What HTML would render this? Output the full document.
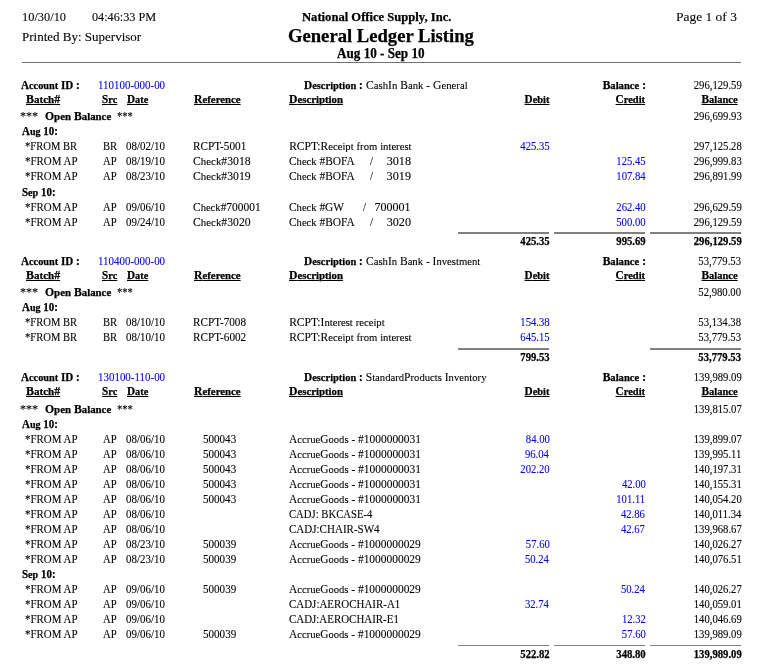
<!DOCTYPE html>
<html><head><meta charset="utf-8"><title>General Ledger Listing</title>
<style>
html,body{margin:0;padding:0;background:#fff;}
body{width:758px;height:665px;position:relative;overflow:hidden;font-family:"Liberation Serif","Times New Roman",serif;color:#000;}
.t{position:absolute;white-space:pre;line-height:20px;font-size:11.5px;-webkit-text-stroke:0.1px currentColor;}
.b{font-weight:bold;-webkit-text-stroke-width:0.25px;}
.u{text-decoration:underline;}
.c{color:#0000ff;}
.ln{position:absolute;}
.l{font-size:10.667px;}
</style></head><body>

<div class="t" style="top:7.11px;font-size:13px;left:21.51px;transform:scale(0.9531,1.0000);transform-origin:0 14.39px;">10/30/10</div>
<div class="t" style="top:7.11px;font-size:13px;left:92.14px;transform:scale(0.9393,1.0000);transform-origin:0 14.39px;">04:46:33 PM</div>
<div class="t b" style="top:7.28px;font-size:12.5px;left:302.16px;transform:scale(1.0075,1.0000);transform-origin:0 14.22px;">National Office Supply, Inc.</div>
<div class="t" style="top:7.11px;font-size:13px;left:675.62px;transform:scale(1.0350,1.0000);transform-origin:0 14.39px;">Page 1 of 3</div>
<div class="t" style="top:27.11px;font-size:13px;left:22.03px;">Printed By: Supervisor</div>
<div class="t b" style="top:26.43px;font-size:18px;left:288.29px;transform:scale(1.0347,1.0000);transform-origin:0 16.08px;">General Ledger Listing</div>
<div class="t b" style="top:43.84px;font-size:13.8px;left:336.58px;transform:scale(0.9523,1.0000);transform-origin:0 14.66px;">Aug 10 - Sep 10</div>
<div class="t b" style="top:74.62px;left:21.19px;transform:scale(0.9640,1.0000);transform-origin:0 13.88px;">A<span class="l">ccount</span> ID :</div>
<div class="t c" style="top:74.62px;left:97.54px;transform:scale(0.9518,1.0000);transform-origin:0 13.88px;">110100-000-00</div>
<div class="t b" style="top:74.62px;left:303.60px;transform:scale(0.9808,1.0000);transform-origin:0 13.88px;">D<span class="l">escription</span> :</div>
<div class="t" style="top:74.62px;left:366.03px;transform:scale(1.0073,1.0000);transform-origin:0 13.88px;">C<span class="l">ash</span>I<span class="l">n</span> B<span class="l">ank</span> - G<span class="l">eneral</span></div>
<div class="t b" style="top:74.62px;right:111.98px;">B<span class="l">alance</span> :</div>
<div class="t" style="top:74.62px;right:16.56px;transform:scale(0.9274,1.0000);transform-origin:100% 13.88px;">296,129.59</div>
<div class="t b u" style="top:88.62px;left:26.10px;transform:scale(1.0355,1.0000);transform-origin:0 13.88px;">B<span class="l">atch</span>#</div>
<div class="t b u" style="top:88.62px;left:102.31px;transform:scale(0.9716,1.0000);transform-origin:0 13.88px;">S<span class="l">rc</span></div>
<div class="t b u" style="top:88.62px;left:126.51px;transform:scale(0.9727,1.0000);transform-origin:0 13.88px;">D<span class="l">ate</span></div>
<div class="t b u" style="top:88.62px;left:193.50px;transform:scale(1.0145,1.0000);transform-origin:0 13.88px;">R<span class="l">eference</span></div>
<div class="t b u" style="top:88.62px;left:289.30px;transform:scale(1.0134,1.0000);transform-origin:0 13.88px;">D<span class="l">escription</span></div>
<div class="t b u" style="top:88.62px;right:208.96px;transform:scale(0.9767,1.0000);transform-origin:100% 13.88px;">D<span class="l">ebit</span></div>
<div class="t b u" style="top:88.62px;right:112.96px;transform:scale(0.9808,1.0000);transform-origin:100% 13.88px;">C<span class="l">redit</span></div>
<div class="t b u" style="top:88.62px;right:19.93px;transform:scale(0.9846,1.0000);transform-origin:100% 13.88px;">B<span class="l">alance</span></div>
<div class="t" style="top:106.28px;font-size:12.5px;left:20.41px;transform:scale(0.9692,1.0000);transform-origin:0 14.22px;">***</div>
<div class="t b" style="top:105.62px;left:44.53px;transform:scale(1.0171,1.0000);transform-origin:0 13.88px;">O<span class="l">pen</span> B<span class="l">alance</span></div>
<div class="t" style="top:106.28px;font-size:12.5px;left:116.69px;transform:scale(0.8438,1.0000);transform-origin:0 14.22px;">***</div>
<div class="t" style="top:105.62px;right:16.58px;transform:scale(0.9275,1.0000);transform-origin:100% 13.88px;">296,699.93</div>
<div class="t b" style="top:120.62px;left:22.40px;transform:scale(0.9497,1.0000);transform-origin:0 13.88px;">A<span class="l">ug</span> 10:</div>
<div class="t" style="top:135.62px;left:25.28px;transform:scale(0.9218,1.0000);transform-origin:0 13.88px;">*FROM BR</div>
<div class="t" style="top:135.62px;left:102.69px;transform:scale(0.9279,1.0000);transform-origin:0 13.88px;">BR</div>
<div class="t" style="top:135.62px;left:126.28px;transform:scale(0.9523,1.0000);transform-origin:0 13.88px;">08/02/10</div>
<div class="t" style="top:135.62px;left:193.38px;transform:scale(0.9772,1.0000);transform-origin:0 13.88px;">RCPT-5001</div>
<div class="t" style="top:135.62px;left:289.17px;">RCPT:R<span class="l">eceipt</span> <span class="l">from</span> <span class="l">interest</span></div>
<div class="t c" style="top:135.62px;right:208.59px;transform:scale(0.9275,1.0000);transform-origin:100% 13.88px;">425.35</div>
<div class="t" style="top:135.62px;right:16.59px;transform:scale(0.9275,1.0000);transform-origin:100% 13.88px;">297,125.28</div>
<div class="t" style="top:150.62px;left:25.27px;transform:scale(0.9508,1.0000);transform-origin:0 13.88px;">*FROM AP</div>
<div class="t" style="top:150.62px;left:102.90px;transform:scale(0.9264,1.0000);transform-origin:0 13.88px;">AP</div>
<div class="t" style="top:150.62px;left:126.28px;transform:scale(0.9523,1.0000);transform-origin:0 13.88px;">08/19/10</div>
<div class="t" style="top:150.62px;left:193.22px;transform:scale(1.0189,1.0000);transform-origin:0 13.88px;">C<span class="l">heck</span>#3018</div>
<div class="t" style="top:150.62px;left:289.23px;transform:scale(0.9924,1.0000);transform-origin:0 13.88px;">C<span class="l">heck</span> #BOFA</div>
<div class="t" style="top:150.62px;left:369.50px;transform:scale(0.9296,1.0000);transform-origin:0 13.88px;">/</div>
<div class="t" style="top:150.62px;right:347.43px;transform:scale(1.0586,1.0000);transform-origin:100% 13.88px;">3018</div>
<div class="t c" style="top:150.62px;right:112.59px;transform:scale(0.9274,1.0000);transform-origin:100% 13.88px;">125.45</div>
<div class="t" style="top:150.62px;right:16.58px;transform:scale(0.9275,1.0000);transform-origin:100% 13.88px;">296,999.83</div>
<div class="t" style="top:165.62px;left:25.27px;transform:scale(0.9508,1.0000);transform-origin:0 13.88px;">*FROM AP</div>
<div class="t" style="top:165.62px;left:102.90px;transform:scale(0.9264,1.0000);transform-origin:0 13.88px;">AP</div>
<div class="t" style="top:165.62px;left:126.28px;transform:scale(0.9523,1.0000);transform-origin:0 13.88px;">08/23/10</div>
<div class="t" style="top:165.62px;left:193.22px;transform:scale(1.0194,1.0000);transform-origin:0 13.88px;">C<span class="l">heck</span>#3019</div>
<div class="t" style="top:165.62px;left:289.23px;transform:scale(0.9924,1.0000);transform-origin:0 13.88px;">C<span class="l">heck</span> #BOFA</div>
<div class="t" style="top:165.62px;left:369.50px;transform:scale(0.9296,1.0000);transform-origin:0 13.88px;">/</div>
<div class="t" style="top:165.62px;right:347.40px;transform:scale(1.0601,1.0000);transform-origin:100% 13.88px;">3019</div>
<div class="t c" style="top:165.62px;right:112.84px;transform:scale(0.9272,1.0000);transform-origin:100% 13.88px;">107.84</div>
<div class="t" style="top:165.62px;right:16.56px;transform:scale(0.9274,1.0000);transform-origin:100% 13.88px;">296,891.99</div>
<div class="t b" style="top:181.62px;left:21.92px;transform:scale(0.9506,1.0000);transform-origin:0 13.88px;">S<span class="l">ep</span> 10:</div>
<div class="t" style="top:196.62px;left:25.27px;transform:scale(0.9508,1.0000);transform-origin:0 13.88px;">*FROM AP</div>
<div class="t" style="top:196.62px;left:102.90px;transform:scale(0.9264,1.0000);transform-origin:0 13.88px;">AP</div>
<div class="t" style="top:196.62px;left:126.28px;transform:scale(0.9523,1.0000);transform-origin:0 13.88px;">09/06/10</div>
<div class="t" style="top:196.62px;left:193.23px;transform:scale(0.9940,1.0000);transform-origin:0 13.88px;">C<span class="l">heck</span>#700001</div>
<div class="t" style="top:196.62px;left:289.23px;transform:scale(0.9909,1.0000);transform-origin:0 13.88px;">C<span class="l">heck</span> #GW</div>
<div class="t" style="top:196.62px;left:362.50px;transform:scale(0.9296,1.0000);transform-origin:0 13.88px;">/</div>
<div class="t" style="top:196.62px;right:347.18px;transform:scale(1.0469,1.0000);transform-origin:100% 13.88px;">700001</div>
<div class="t c" style="top:196.62px;right:112.60px;transform:scale(0.9273,1.0000);transform-origin:100% 13.88px;">262.40</div>
<div class="t" style="top:196.62px;right:16.56px;transform:scale(0.9274,1.0000);transform-origin:100% 13.88px;">296,629.59</div>
<div class="t" style="top:211.62px;left:25.27px;transform:scale(0.9508,1.0000);transform-origin:0 13.88px;">*FROM AP</div>
<div class="t" style="top:211.62px;left:102.90px;transform:scale(0.9264,1.0000);transform-origin:0 13.88px;">AP</div>
<div class="t" style="top:211.62px;left:126.28px;transform:scale(0.9523,1.0000);transform-origin:0 13.88px;">09/24/10</div>
<div class="t" style="top:211.62px;left:193.22px;transform:scale(1.0189,1.0000);transform-origin:0 13.88px;">C<span class="l">heck</span>#3020</div>
<div class="t" style="top:211.62px;left:289.23px;transform:scale(0.9924,1.0000);transform-origin:0 13.88px;">C<span class="l">heck</span> #BOFA</div>
<div class="t" style="top:211.62px;left:369.50px;transform:scale(0.9296,1.0000);transform-origin:0 13.88px;">/</div>
<div class="t" style="top:211.62px;right:347.43px;transform:scale(1.0586,1.0000);transform-origin:100% 13.88px;">3020</div>
<div class="t c" style="top:211.62px;right:112.60px;transform:scale(0.9276,1.0000);transform-origin:100% 13.88px;">500.00</div>
<div class="t" style="top:211.62px;right:16.56px;transform:scale(0.9274,1.0000);transform-origin:100% 13.88px;">296,129.59</div>
<div class="t b" style="top:230.62px;right:208.62px;transform:scale(0.9272,1.0000);transform-origin:100% 13.88px;">425.35</div>
<div class="t b" style="top:230.62px;right:112.62px;transform:scale(0.9273,1.0000);transform-origin:100% 13.88px;">995.69</div>
<div class="t b" style="top:230.62px;right:16.62px;transform:scale(0.9274,1.0000);transform-origin:100% 13.88px;">296,129.59</div>
<div class="t b" style="top:250.62px;left:21.19px;transform:scale(0.9640,1.0000);transform-origin:0 13.88px;">A<span class="l">ccount</span> ID :</div>
<div class="t c" style="top:250.62px;left:97.54px;transform:scale(0.9518,1.0000);transform-origin:0 13.88px;">110400-000-00</div>
<div class="t b" style="top:250.62px;left:303.60px;transform:scale(0.9808,1.0000);transform-origin:0 13.88px;">D<span class="l">escription</span> :</div>
<div class="t" style="top:250.62px;left:366.03px;">C<span class="l">ash</span>I<span class="l">n</span> B<span class="l">ank</span> - I<span class="l">nvestment</span></div>
<div class="t b" style="top:250.62px;right:111.98px;">B<span class="l">alance</span> :</div>
<div class="t" style="top:250.62px;right:16.58px;transform:scale(0.9277,1.0000);transform-origin:100% 13.88px;">53,779.53</div>
<div class="t b u" style="top:264.62px;left:26.10px;transform:scale(1.0355,1.0000);transform-origin:0 13.88px;">B<span class="l">atch</span>#</div>
<div class="t b u" style="top:264.62px;left:102.31px;transform:scale(0.9716,1.0000);transform-origin:0 13.88px;">S<span class="l">rc</span></div>
<div class="t b u" style="top:264.62px;left:126.51px;transform:scale(0.9727,1.0000);transform-origin:0 13.88px;">D<span class="l">ate</span></div>
<div class="t b u" style="top:264.62px;left:193.50px;transform:scale(1.0145,1.0000);transform-origin:0 13.88px;">R<span class="l">eference</span></div>
<div class="t b u" style="top:264.62px;left:289.30px;transform:scale(1.0134,1.0000);transform-origin:0 13.88px;">D<span class="l">escription</span></div>
<div class="t b u" style="top:264.62px;right:208.96px;transform:scale(0.9767,1.0000);transform-origin:100% 13.88px;">D<span class="l">ebit</span></div>
<div class="t b u" style="top:264.62px;right:112.96px;transform:scale(0.9808,1.0000);transform-origin:100% 13.88px;">C<span class="l">redit</span></div>
<div class="t b u" style="top:264.62px;right:19.93px;transform:scale(0.9846,1.0000);transform-origin:100% 13.88px;">B<span class="l">alance</span></div>
<div class="t" style="top:282.28px;font-size:12.5px;left:20.41px;transform:scale(0.9692,1.0000);transform-origin:0 14.22px;">***</div>
<div class="t b" style="top:281.62px;left:44.53px;transform:scale(1.0171,1.0000);transform-origin:0 13.88px;">O<span class="l">pen</span> B<span class="l">alance</span></div>
<div class="t" style="top:282.28px;font-size:12.5px;left:116.69px;transform:scale(0.8438,1.0000);transform-origin:0 14.22px;">***</div>
<div class="t" style="top:281.62px;right:16.59px;transform:scale(0.9277,1.0000);transform-origin:100% 13.88px;">52,980.00</div>
<div class="t b" style="top:296.62px;left:22.40px;transform:scale(0.9497,1.0000);transform-origin:0 13.88px;">A<span class="l">ug</span> 10:</div>
<div class="t" style="top:311.62px;left:25.28px;transform:scale(0.9218,1.0000);transform-origin:0 13.88px;">*FROM BR</div>
<div class="t" style="top:311.62px;left:102.69px;transform:scale(0.9279,1.0000);transform-origin:0 13.88px;">BR</div>
<div class="t" style="top:311.62px;left:126.28px;transform:scale(0.9523,1.0000);transform-origin:0 13.88px;">08/10/10</div>
<div class="t" style="top:311.62px;left:193.38px;transform:scale(0.9727,1.0000);transform-origin:0 13.88px;">RCPT-7008</div>
<div class="t" style="top:311.62px;left:289.17px;">RCPT:I<span class="l">nterest</span> <span class="l">receipt</span></div>
<div class="t c" style="top:311.62px;right:208.60px;transform:scale(0.9274,1.0000);transform-origin:100% 13.88px;">154.38</div>
<div class="t" style="top:311.62px;right:16.59px;transform:scale(0.9277,1.0000);transform-origin:100% 13.88px;">53,134.38</div>
<div class="t" style="top:326.62px;left:25.28px;transform:scale(0.9218,1.0000);transform-origin:0 13.88px;">*FROM BR</div>
<div class="t" style="top:326.62px;left:102.69px;transform:scale(0.9279,1.0000);transform-origin:0 13.88px;">BR</div>
<div class="t" style="top:326.62px;left:126.28px;transform:scale(0.9523,1.0000);transform-origin:0 13.88px;">08/10/10</div>
<div class="t" style="top:326.62px;left:193.38px;transform:scale(0.9761,1.0000);transform-origin:0 13.88px;">RCPT-6002</div>
<div class="t" style="top:326.62px;left:289.17px;">RCPT:R<span class="l">eceipt</span> <span class="l">from</span> <span class="l">interest</span></div>
<div class="t c" style="top:326.62px;right:208.59px;transform:scale(0.9273,1.0000);transform-origin:100% 13.88px;">645.15</div>
<div class="t" style="top:326.62px;right:16.58px;transform:scale(0.9277,1.0000);transform-origin:100% 13.88px;">53,779.53</div>
<div class="t b" style="top:346.62px;right:208.64px;transform:scale(0.9275,1.0000);transform-origin:100% 13.88px;">799.53</div>
<div class="t b" style="top:346.62px;right:16.64px;transform:scale(0.9275,1.0000);transform-origin:100% 13.88px;">53,779.53</div>
<div class="t b" style="top:366.62px;left:21.19px;transform:scale(0.9640,1.0000);transform-origin:0 13.88px;">A<span class="l">ccount</span> ID :</div>
<div class="t c" style="top:366.62px;left:97.54px;transform:scale(0.9518,1.0000);transform-origin:0 13.88px;">130100-110-00</div>
<div class="t b" style="top:366.62px;left:303.60px;transform:scale(0.9808,1.0000);transform-origin:0 13.88px;">D<span class="l">escription</span> :</div>
<div class="t" style="top:366.62px;left:365.73px;">S<span class="l">tandard</span>P<span class="l">roducts</span> I<span class="l">nventory</span></div>
<div class="t b" style="top:366.62px;right:111.98px;">B<span class="l">alance</span> :</div>
<div class="t" style="top:366.62px;right:16.56px;transform:scale(0.9275,1.0000);transform-origin:100% 13.88px;">139,989.09</div>
<div class="t b u" style="top:380.62px;left:26.10px;transform:scale(1.0355,1.0000);transform-origin:0 13.88px;">B<span class="l">atch</span>#</div>
<div class="t b u" style="top:380.62px;left:102.31px;transform:scale(0.9716,1.0000);transform-origin:0 13.88px;">S<span class="l">rc</span></div>
<div class="t b u" style="top:380.62px;left:126.51px;transform:scale(0.9727,1.0000);transform-origin:0 13.88px;">D<span class="l">ate</span></div>
<div class="t b u" style="top:380.62px;left:193.50px;transform:scale(1.0145,1.0000);transform-origin:0 13.88px;">R<span class="l">eference</span></div>
<div class="t b u" style="top:380.62px;left:289.30px;transform:scale(1.0134,1.0000);transform-origin:0 13.88px;">D<span class="l">escription</span></div>
<div class="t b u" style="top:380.62px;right:208.96px;transform:scale(0.9767,1.0000);transform-origin:100% 13.88px;">D<span class="l">ebit</span></div>
<div class="t b u" style="top:380.62px;right:112.96px;transform:scale(0.9808,1.0000);transform-origin:100% 13.88px;">C<span class="l">redit</span></div>
<div class="t b u" style="top:380.62px;right:19.93px;transform:scale(0.9846,1.0000);transform-origin:100% 13.88px;">B<span class="l">alance</span></div>
<div class="t" style="top:399.28px;font-size:12.5px;left:20.41px;transform:scale(0.9692,1.0000);transform-origin:0 14.22px;">***</div>
<div class="t b" style="top:398.62px;left:44.53px;transform:scale(1.0171,1.0000);transform-origin:0 13.88px;">O<span class="l">pen</span> B<span class="l">alance</span></div>
<div class="t" style="top:399.28px;font-size:12.5px;left:116.69px;transform:scale(0.8438,1.0000);transform-origin:0 14.22px;">***</div>
<div class="t" style="top:398.62px;right:16.69px;transform:scale(0.9275,1.0000);transform-origin:100% 13.88px;">139,815.07</div>
<div class="t b" style="top:413.62px;left:22.40px;transform:scale(0.9497,1.0000);transform-origin:0 13.88px;">A<span class="l">ug</span> 10:</div>
<div class="t" style="top:428.62px;left:25.27px;transform:scale(0.9508,1.0000);transform-origin:0 13.88px;">*FROM AP</div>
<div class="t" style="top:428.62px;left:102.90px;transform:scale(0.9264,1.0000);transform-origin:0 13.88px;">AP</div>
<div class="t" style="top:428.62px;left:126.28px;transform:scale(0.9523,1.0000);transform-origin:0 13.88px;">08/06/10</div>
<div class="t" style="top:428.62px;left:202.96px;transform:scale(0.9617,1.0000);transform-origin:0 13.88px;">500043</div>
<div class="t" style="top:428.62px;left:289.39px;transform:scale(0.9948,1.0000);transform-origin:0 13.88px;">A<span class="l">ccrue</span>G<span class="l">oods</span> - #1000000031</div>
<div class="t c" style="top:428.62px;right:208.60px;transform:scale(0.9276,1.0000);transform-origin:100% 13.88px;">84.00</div>
<div class="t" style="top:428.62px;right:16.69px;transform:scale(0.9275,1.0000);transform-origin:100% 13.88px;">139,899.07</div>
<div class="t" style="top:443.62px;left:25.27px;transform:scale(0.9508,1.0000);transform-origin:0 13.88px;">*FROM AP</div>
<div class="t" style="top:443.62px;left:102.90px;transform:scale(0.9264,1.0000);transform-origin:0 13.88px;">AP</div>
<div class="t" style="top:443.62px;left:126.28px;transform:scale(0.9523,1.0000);transform-origin:0 13.88px;">08/06/10</div>
<div class="t" style="top:443.62px;left:202.96px;transform:scale(0.9617,1.0000);transform-origin:0 13.88px;">500043</div>
<div class="t" style="top:443.62px;left:289.39px;transform:scale(0.9948,1.0000);transform-origin:0 13.88px;">A<span class="l">ccrue</span>G<span class="l">oods</span> - #1000000031</div>
<div class="t c" style="top:443.62px;right:208.84px;transform:scale(0.9273,1.0000);transform-origin:100% 13.88px;">96.04</div>
<div class="t" style="top:443.62px;right:16.36px;transform:scale(0.9276,1.0000);transform-origin:100% 13.88px;">139,995.11</div>
<div class="t" style="top:458.62px;left:25.27px;transform:scale(0.9508,1.0000);transform-origin:0 13.88px;">*FROM AP</div>
<div class="t" style="top:458.62px;left:102.90px;transform:scale(0.9264,1.0000);transform-origin:0 13.88px;">AP</div>
<div class="t" style="top:458.62px;left:126.28px;transform:scale(0.9523,1.0000);transform-origin:0 13.88px;">08/06/10</div>
<div class="t" style="top:458.62px;left:202.96px;transform:scale(0.9617,1.0000);transform-origin:0 13.88px;">500043</div>
<div class="t" style="top:458.62px;left:289.39px;transform:scale(0.9948,1.0000);transform-origin:0 13.88px;">A<span class="l">ccrue</span>G<span class="l">oods</span> - #1000000031</div>
<div class="t c" style="top:458.62px;right:208.60px;transform:scale(0.9273,1.0000);transform-origin:100% 13.88px;">202.20</div>
<div class="t" style="top:458.62px;right:16.36px;transform:scale(0.9275,1.0000);transform-origin:100% 13.88px;">140,197.31</div>
<div class="t" style="top:473.62px;left:25.27px;transform:scale(0.9508,1.0000);transform-origin:0 13.88px;">*FROM AP</div>
<div class="t" style="top:473.62px;left:102.90px;transform:scale(0.9264,1.0000);transform-origin:0 13.88px;">AP</div>
<div class="t" style="top:473.62px;left:126.28px;transform:scale(0.9523,1.0000);transform-origin:0 13.88px;">08/06/10</div>
<div class="t" style="top:473.62px;left:202.96px;transform:scale(0.9617,1.0000);transform-origin:0 13.88px;">500043</div>
<div class="t" style="top:473.62px;left:289.39px;transform:scale(0.9948,1.0000);transform-origin:0 13.88px;">A<span class="l">ccrue</span>G<span class="l">oods</span> - #1000000031</div>
<div class="t c" style="top:473.62px;right:112.60px;transform:scale(0.9275,1.0000);transform-origin:100% 13.88px;">42.00</div>
<div class="t" style="top:473.62px;right:16.36px;transform:scale(0.9275,1.0000);transform-origin:100% 13.88px;">140,155.31</div>
<div class="t" style="top:488.62px;left:25.27px;transform:scale(0.9508,1.0000);transform-origin:0 13.88px;">*FROM AP</div>
<div class="t" style="top:488.62px;left:102.90px;transform:scale(0.9264,1.0000);transform-origin:0 13.88px;">AP</div>
<div class="t" style="top:488.62px;left:126.28px;transform:scale(0.9523,1.0000);transform-origin:0 13.88px;">08/06/10</div>
<div class="t" style="top:488.62px;left:202.96px;transform:scale(0.9617,1.0000);transform-origin:0 13.88px;">500043</div>
<div class="t" style="top:488.62px;left:289.39px;transform:scale(0.9948,1.0000);transform-origin:0 13.88px;">A<span class="l">ccrue</span>G<span class="l">oods</span> - #1000000031</div>
<div class="t c" style="top:488.62px;right:112.36px;transform:scale(0.9275,1.0000);transform-origin:100% 13.88px;">101.11</div>
<div class="t" style="top:488.62px;right:16.59px;transform:scale(0.9276,1.0000);transform-origin:100% 13.88px;">140,054.20</div>
<div class="t" style="top:503.62px;left:25.27px;transform:scale(0.9508,1.0000);transform-origin:0 13.88px;">*FROM AP</div>
<div class="t" style="top:503.62px;left:102.90px;transform:scale(0.9264,1.0000);transform-origin:0 13.88px;">AP</div>
<div class="t" style="top:503.62px;left:126.28px;transform:scale(0.9523,1.0000);transform-origin:0 13.88px;">08/06/10</div>
<div class="t" style="top:503.62px;left:289.06px;transform:scale(0.9279,1.0000);transform-origin:0 13.88px;">CADJ: BKCASE-4</div>
<div class="t c" style="top:503.62px;right:112.69px;transform:scale(0.9273,1.0000);transform-origin:100% 13.88px;">42.86</div>
<div class="t" style="top:503.62px;right:16.83px;transform:scale(0.9275,1.0000);transform-origin:100% 13.88px;">140,011.34</div>
<div class="t" style="top:518.62px;left:25.27px;transform:scale(0.9508,1.0000);transform-origin:0 13.88px;">*FROM AP</div>
<div class="t" style="top:518.62px;left:102.90px;transform:scale(0.9264,1.0000);transform-origin:0 13.88px;">AP</div>
<div class="t" style="top:518.62px;left:126.28px;transform:scale(0.9523,1.0000);transform-origin:0 13.88px;">08/06/10</div>
<div class="t" style="top:518.62px;left:289.05px;transform:scale(0.9584,1.0000);transform-origin:0 13.88px;">CADJ:CHAIR-SW4</div>
<div class="t c" style="top:518.62px;right:112.70px;transform:scale(0.9273,1.0000);transform-origin:100% 13.88px;">42.67</div>
<div class="t" style="top:518.62px;right:16.69px;transform:scale(0.9275,1.0000);transform-origin:100% 13.88px;">139,968.67</div>
<div class="t" style="top:533.62px;left:25.27px;transform:scale(0.9508,1.0000);transform-origin:0 13.88px;">*FROM AP</div>
<div class="t" style="top:533.62px;left:102.90px;transform:scale(0.9264,1.0000);transform-origin:0 13.88px;">AP</div>
<div class="t" style="top:533.62px;left:126.28px;transform:scale(0.9523,1.0000);transform-origin:0 13.88px;">08/23/10</div>
<div class="t" style="top:533.62px;left:202.96px;transform:scale(0.9622,1.0000);transform-origin:0 13.88px;">500039</div>
<div class="t" style="top:533.62px;left:289.39px;transform:scale(0.9931,1.0000);transform-origin:0 13.88px;">A<span class="l">ccrue</span>G<span class="l">oods</span> - #1000000029</div>
<div class="t c" style="top:533.62px;right:208.60px;transform:scale(0.9276,1.0000);transform-origin:100% 13.88px;">57.60</div>
<div class="t" style="top:533.62px;right:16.69px;transform:scale(0.9275,1.0000);transform-origin:100% 13.88px;">140,026.27</div>
<div class="t" style="top:548.62px;left:25.27px;transform:scale(0.9508,1.0000);transform-origin:0 13.88px;">*FROM AP</div>
<div class="t" style="top:548.62px;left:102.90px;transform:scale(0.9264,1.0000);transform-origin:0 13.88px;">AP</div>
<div class="t" style="top:548.62px;left:126.28px;transform:scale(0.9523,1.0000);transform-origin:0 13.88px;">08/23/10</div>
<div class="t" style="top:548.62px;left:202.96px;transform:scale(0.9622,1.0000);transform-origin:0 13.88px;">500039</div>
<div class="t" style="top:548.62px;left:289.39px;transform:scale(0.9931,1.0000);transform-origin:0 13.88px;">A<span class="l">ccrue</span>G<span class="l">oods</span> - #1000000029</div>
<div class="t c" style="top:548.62px;right:208.84px;transform:scale(0.9273,1.0000);transform-origin:100% 13.88px;">50.24</div>
<div class="t" style="top:548.62px;right:16.36px;transform:scale(0.9275,1.0000);transform-origin:100% 13.88px;">140,076.51</div>
<div class="t b" style="top:563.62px;left:21.92px;transform:scale(0.9506,1.0000);transform-origin:0 13.88px;">S<span class="l">ep</span> 10:</div>
<div class="t" style="top:578.62px;left:25.27px;transform:scale(0.9508,1.0000);transform-origin:0 13.88px;">*FROM AP</div>
<div class="t" style="top:578.62px;left:102.90px;transform:scale(0.9264,1.0000);transform-origin:0 13.88px;">AP</div>
<div class="t" style="top:578.62px;left:126.28px;transform:scale(0.9523,1.0000);transform-origin:0 13.88px;">09/06/10</div>
<div class="t" style="top:578.62px;left:202.96px;transform:scale(0.9622,1.0000);transform-origin:0 13.88px;">500039</div>
<div class="t" style="top:578.62px;left:289.39px;transform:scale(0.9931,1.0000);transform-origin:0 13.88px;">A<span class="l">ccrue</span>G<span class="l">oods</span> - #1000000029</div>
<div class="t c" style="top:578.62px;right:112.84px;transform:scale(0.9273,1.0000);transform-origin:100% 13.88px;">50.24</div>
<div class="t" style="top:578.62px;right:16.69px;transform:scale(0.9275,1.0000);transform-origin:100% 13.88px;">140,026.27</div>
<div class="t" style="top:593.62px;left:25.27px;transform:scale(0.9508,1.0000);transform-origin:0 13.88px;">*FROM AP</div>
<div class="t" style="top:593.62px;left:102.90px;transform:scale(0.9264,1.0000);transform-origin:0 13.88px;">AP</div>
<div class="t" style="top:593.62px;left:126.28px;transform:scale(0.9523,1.0000);transform-origin:0 13.88px;">09/06/10</div>
<div class="t" style="top:593.62px;left:289.05px;transform:scale(0.9520,1.0000);transform-origin:0 13.88px;">CADJ:AEROCHAIR-A1</div>
<div class="t c" style="top:593.62px;right:208.84px;transform:scale(0.9272,1.0000);transform-origin:100% 13.88px;">32.74</div>
<div class="t" style="top:593.62px;right:16.36px;transform:scale(0.9275,1.0000);transform-origin:100% 13.88px;">140,059.01</div>
<div class="t" style="top:608.62px;left:25.27px;transform:scale(0.9508,1.0000);transform-origin:0 13.88px;">*FROM AP</div>
<div class="t" style="top:608.62px;left:102.90px;transform:scale(0.9264,1.0000);transform-origin:0 13.88px;">AP</div>
<div class="t" style="top:608.62px;left:126.28px;transform:scale(0.9523,1.0000);transform-origin:0 13.88px;">09/06/10</div>
<div class="t" style="top:608.62px;left:289.05px;transform:scale(0.9504,1.0000);transform-origin:0 13.88px;">CADJ:AEROCHAIR-E1</div>
<div class="t c" style="top:608.62px;right:112.42px;transform:scale(0.9272,1.0000);transform-origin:100% 13.88px;">12.32</div>
<div class="t" style="top:608.62px;right:16.56px;transform:scale(0.9275,1.0000);transform-origin:100% 13.88px;">140,046.69</div>
<div class="t" style="top:623.62px;left:25.27px;transform:scale(0.9508,1.0000);transform-origin:0 13.88px;">*FROM AP</div>
<div class="t" style="top:623.62px;left:102.90px;transform:scale(0.9264,1.0000);transform-origin:0 13.88px;">AP</div>
<div class="t" style="top:623.62px;left:126.28px;transform:scale(0.9523,1.0000);transform-origin:0 13.88px;">09/06/10</div>
<div class="t" style="top:623.62px;left:202.96px;transform:scale(0.9622,1.0000);transform-origin:0 13.88px;">500039</div>
<div class="t" style="top:623.62px;left:289.39px;transform:scale(0.9931,1.0000);transform-origin:0 13.88px;">A<span class="l">ccrue</span>G<span class="l">oods</span> - #1000000029</div>
<div class="t c" style="top:623.62px;right:112.60px;transform:scale(0.9276,1.0000);transform-origin:100% 13.88px;">57.60</div>
<div class="t" style="top:623.62px;right:16.56px;transform:scale(0.9275,1.0000);transform-origin:100% 13.88px;">139,989.09</div>
<div class="t b" style="top:643.62px;right:208.55px;transform:scale(0.9273,1.0000);transform-origin:100% 13.88px;">522.82</div>
<div class="t b" style="top:643.62px;right:112.60px;transform:scale(0.9273,1.0000);transform-origin:100% 13.88px;">348.80</div>
<div class="t b" style="top:643.62px;right:16.62px;transform:scale(0.9275,1.0000);transform-origin:100% 13.88px;">139,989.09</div>
<div class="ln" style="left:22px;top:62px;width:719px;height:1px;background:#707070"></div>
<div class="ln" style="left:458px;top:232px;width:91px;height:2px;background:#808080"></div>
<div class="ln" style="left:554px;top:232px;width:91px;height:2px;background:#808080"></div>
<div class="ln" style="left:650px;top:232px;width:91px;height:2px;background:#808080"></div>
<div class="ln" style="left:458px;top:348px;width:91px;height:2px;background:#808080"></div>
<div class="ln" style="left:650px;top:348px;width:91px;height:2px;background:#808080"></div>
<div class="ln" style="left:458px;top:645px;width:91px;height:1px;background:#808080"></div>
<div class="ln" style="left:554px;top:645px;width:91px;height:1px;background:#808080"></div>
<div class="ln" style="left:650px;top:645px;width:91px;height:1px;background:#808080"></div>
</body></html>
